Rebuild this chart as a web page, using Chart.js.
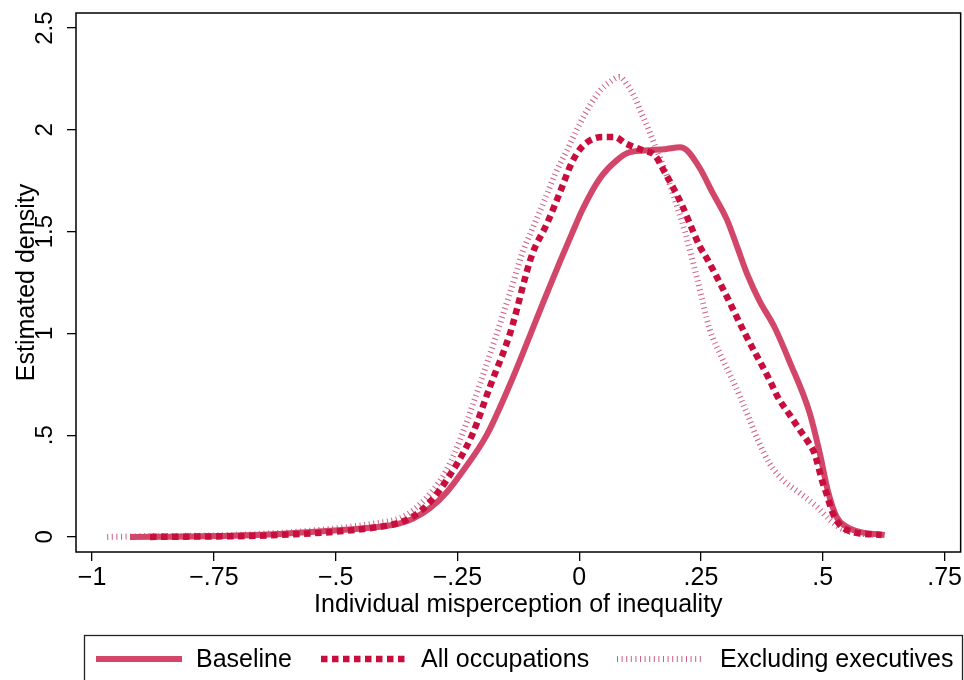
<!DOCTYPE html>
<html>
<head>
<meta charset="utf-8">
<script src="https://cdn.jsdelivr.net/npm/chart.js@4.4.1/dist/chart.umd.min.js"></script>
<style>
  html, body { margin: 0; padding: 0; background: #fff; }
  #wrap { width: 964px; height: 680px; }
</style>
</head>
<body>
<div id="wrap"><canvas id="myChart" width="964" height="680"></canvas></div>
<script>
// series (x = misperception, y = density)
const baseX = [-0.922, -0.778, -0.614, -0.512, -0.409, -0.370, -0.341, -0.307, -0.272, -0.240, -0.190, -0.142, -0.101, -0.071, -0.040, -0.015, 0.007, 0.042, 0.077, 0.104, 0.145, 0.176, 0.207, 0.221, 0.248, 0.274, 0.303, 0.325, 0.345, 0.370, 0.401, 0.432, 0.473, 0.494, 0.510, 0.528, 0.549, 0.576, 0.627];
const baseY = [0, 0.003, 0.015, 0.03, 0.05, 0.065, 0.09, 0.14, 0.22, 0.32, 0.50, 0.75, 0.99, 1.17, 1.35, 1.49, 1.61, 1.76, 1.85, 1.89, 1.90, 1.905, 1.915, 1.90, 1.81, 1.69, 1.56, 1.42, 1.29, 1.16, 1.03, 0.86, 0.61, 0.41, 0.23, 0.10, 0.05, 0.025, 0.01];

const allX = [-0.881, -0.614, -0.409, -0.370, -0.341, -0.307, -0.272, -0.220, -0.183, -0.142, -0.097, -0.066, -0.040, -0.015, 0.007, 0.048, 0.073, 0.094, 0.130, 0.155, 0.176, 0.192, 0.211, 0.227, 0.247, 0.264, 0.299, 0.340, 0.391, 0.407, 0.432, 0.453, 0.469, 0.483, 0.500, 0.508, 0.520, 0.535, 0.561, 0.621];
const allY = [0, 0.01, 0.05, 0.07, 0.10, 0.17, 0.28, 0.50, 0.74, 1.00, 1.385, 1.54, 1.69, 1.84, 1.92, 1.965, 1.965, 1.935, 1.90, 1.875, 1.79, 1.72, 1.63, 1.54, 1.43, 1.36, 1.20, 1.00, 0.77, 0.69, 0.60, 0.525, 0.47, 0.41, 0.265, 0.21, 0.12, 0.06, 0.025, 0.01];

const exX = [-0.969, -0.614, -0.409, -0.370, -0.341, -0.307, -0.272, -0.241, -0.204, -0.169, -0.142, -0.116, -0.095, -0.071, -0.050, -0.025, -0.003, 0.022, 0.042, 0.063, 0.083, 0.099, 0.114, 0.128, 0.141, 0.151, 0.176, 0.196, 0.217, 0.241, 0.268, 0.293, 0.315, 0.330, 0.350, 0.366, 0.391, 0.418, 0.453, 0.487, 0.514, 0.535, 0.555, 0.606];
const exY = [0, 0.02, 0.07, 0.09, 0.13, 0.21, 0.33, 0.50, 0.75, 1.00, 1.20, 1.40, 1.52, 1.655, 1.78, 1.90, 2.01, 2.12, 2.19, 2.235, 2.26, 2.22, 2.16, 2.08, 2.01, 1.95, 1.80, 1.66, 1.50, 1.28, 1.02, 0.88, 0.77, 0.69, 0.575, 0.48, 0.36, 0.28, 0.215, 0.15, 0.085, 0.045, 0.025, 0.01];

const seriesNames = ['Baseline', 'All occupations', 'Excluding executives'];
const xTicks = [-1, -0.75, -0.5, -0.25, 0, 0.25, 0.5, 0.75];
const yTicks = [0, 0.5, 1, 1.5, 2, 2.5];

const FONT = 'Liberation Sans, Arial, Helvetica, sans-serif';

function fmt(v) {
    if (v === 0) return '0';
    const s = Math.abs(v).toString().replace(/^0/, '');
    return (v < 0 ? '\u2212' : '') + s;
}

function pts(xs, ys) {
    return xs.map((x, i) => ({ x: x, y: ys[i] }));
}

// frame, rotated y labels and the boxed legend underneath
const extras = {
    id: 'extras',
    afterDraw(chart) {
        const ctx = chart.ctx;
        const a = chart.chartArea;
        const ys = chart.scales.y;
        ctx.save();
        ctx.strokeStyle = '#000';
        ctx.lineWidth = 1.5;
        ctx.strokeRect(a.left, a.top, a.right - a.left, a.bottom - a.top);

        ctx.fillStyle = '#000';
        ctx.font = '24px ' + FONT;
        ctx.textAlign = 'center';
        ctx.textBaseline = 'middle';
        yTicks.forEach(v => {
            ctx.save();
            ctx.translate(45, ys.getPixelForValue(v));
            ctx.rotate(-Math.PI / 2);
            ctx.fillText(fmt(v), 0, 0);
            ctx.restore();
        });

        // legend
        ctx.font = '25px ' + FONT;
        ctx.lineWidth = 1.3;
        ctx.strokeStyle = '#222';
        ctx.strokeRect(84.5, 635.5, 878, 60);
        const items = [[96, 182, 196], [321, 405, 421], [617, 701, 720]];
        chart.data.datasets.forEach((ds, i) => {
            const it = items[i];
            ctx.save();
            ctx.strokeStyle = ds.borderColor;
            ctx.lineWidth = ds.borderWidth;
            ctx.setLineDash(ds.borderDash || []);
            ctx.lineCap = 'butt';
            ctx.beginPath();
            ctx.moveTo(it[0], 659);
            ctx.lineTo(it[1], 659);
            ctx.stroke();
            ctx.restore();
            ctx.fillStyle = '#000';
            ctx.textAlign = 'left';
            ctx.fillText(ds.label, it[2], 660);
        });
        ctx.restore();
    }
};

const ctx = document.getElementById('myChart').getContext('2d');
const myChart = new Chart(ctx, {
    type: 'line',
    data: {
        datasets: [{
            label: seriesNames[0],
            data: pts(baseX, baseY),
            borderColor: 'rgb(209, 70, 105)',
            borderWidth: 6,
            order: 1
        }, {
            label: seriesNames[1],
            data: pts(allX, allY),
            borderColor: 'rgb(200, 14, 60)',
            borderWidth: 6.5,
            borderDash: [6.5, 4.5],
            borderCapStyle: 'butt',
            order: 0
        }, {
            label: seriesNames[2],
            data: pts(exX, exY),
            borderColor: 'rgba(190, 40, 88, 0.75)',
            borderWidth: 6,
            borderDash: [1, 3.6],
            borderCapStyle: 'butt',
            order: 2
        }]
    },
    options: {
        responsive: false,
        maintainAspectRatio: false,
        animation: false,
        elements: {
            point: { radius: 0, hoverRadius: 0 },
            line: { cubicInterpolationMode: 'monotone', fill: false }
        },
        layout: { padding: { top: 13, right: 3, bottom: 58, left: 0 } },
        plugins: {
            legend: { display: false },
            tooltip: { enabled: false }
        },
        scales: {
            x: {
                type: 'linear',
                min: -1.033,
                max: 0.783,
                afterBuildTicks: s => { s.ticks = xTicks.map(v => ({ value: v })); },
                afterFit: s => { s.height = 70; },
                border: { display: false },
                grid: { display: true, drawOnChartArea: false, drawTicks: true, tickLength: 9, color: '#000', lineWidth: 1.3 },
                ticks: {
                    color: '#000',
                    font: { family: FONT, size: 25 },
                    padding: 2,
                    maxRotation: 0,
                    autoSkip: false,
                    callback: v => fmt(v)
                },
                title: {
                    display: true,
                    text: 'Individual misperception of inequality',
                    color: '#000',
                    font: { family: FONT, size: 25 },
                    padding: { top: 0, bottom: 2 }
                }
            },
            y: {
                type: 'linear',
                min: -0.074,
                max: 2.574,
                afterBuildTicks: s => { s.ticks = yTicks.map(v => ({ value: v })); },
                afterFit: s => { s.width = 76; },
                border: { display: false },
                grid: { display: true, drawOnChartArea: false, drawTicks: true, tickLength: 9, color: '#000', lineWidth: 1.3 },
                ticks: { display: false },
                title: {
                    display: true,
                    text: 'Estimated density',
                    color: '#000',
                    font: { family: FONT, size: 25 },
                    padding: { top: 12, bottom: 0 }
                }
            }
        }
    },
    plugins: [extras]
});
</script>
</body>
</html>
